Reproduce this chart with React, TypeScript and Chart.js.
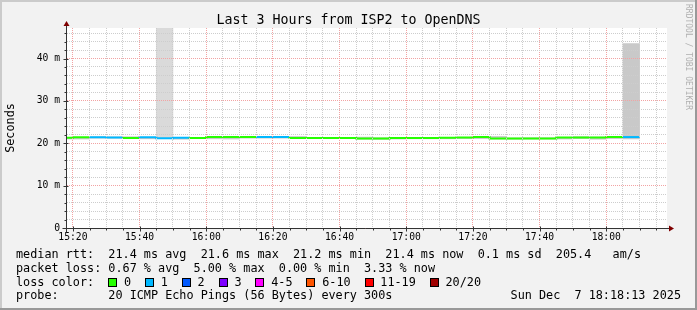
import React, { useEffect, useRef } from 'react';
import { Chart, registerables } from 'chart.js';

Chart.register(...registerables);

const CHART_TITLE = 'Last 3 Hours from ISP2 to OpenDNS';
const Y_AXIS_TITLE = 'Seconds';
const WATERMARK = 'RRDTOOL / TOBI OETIKER';
const RANGE_START = '15:18:13';
const RANGE_END = '18:18:13';
const STEP_MINUTES = 5;

const SAMPLE_TIMES = [
  '15:15', '15:20', '15:25', '15:30', '15:35', '15:40', '15:45', '15:50', '15:55',
  '16:00', '16:05', '16:10', '16:15', '16:20', '16:25', '16:30', '16:35', '16:40', '16:45', '16:50', '16:55',
  '17:00', '17:05', '17:10', '17:15', '17:20', '17:25', '17:30', '17:35', '17:40', '17:45', '17:50', '17:55',
  '18:00', '18:05',
];
const MEDIAN_RTT_MS = [
  21.27, 21.27, 21.42, 21.42, 21.34, 21.23, 21.42, 21.20, 21.27,
  21.25, 21.46, 21.46, 21.46, 21.46, 21.50, 21.23, 21.23, 21.23, 21.23, 21.15, 21.15,
  21.23, 21.23, 21.23, 21.27, 21.34, 21.50, 21.10, 21.15, 21.15, 21.15, 21.34, 21.34,
  21.34, 21.46,
];
const LOST_PINGS = [
  0, 0, 1, 1, 0, 1, 1, 1, 0,
  0, 0, 0, 1, 1, 0, 0, 0, 0, 0, 0, 0,
  0, 0, 0, 0, 0, 0, 0, 0, 0, 0, 0, 0,
  0, 1,
];
const SMOKE_MIN_MS = [
  21.00, 21.00, 21.20, 21.20, 21.20, 21.05, 21.10, 20.95, 21.10,
  21.05, 21.00, 21.20, 21.20, 21.20, 21.20, 21.10, 21.10, 21.10, 20.95, 20.90, 21.00,
  21.05, 21.05, 21.05, 21.10, 21.10, 21.00, 20.95, 21.00, 21.00, 21.00, 21.10, 20.95,
  21.10, 21.00,
];
const SMOKE_MAX_MS = [
  21.35, 21.35, 21.50, 21.50, 21.55, 21.35, 60.00, 21.30, 21.40,
  21.45, 21.55, 21.55, 21.55, 21.55, 21.60, 21.35, 21.35, 21.35, 21.45, 21.30, 21.30,
  21.35, 21.35, 21.35, 21.35, 21.45, 21.60, 21.25, 21.30, 21.30, 21.30, 21.55, 21.45,
  21.45, 43.50,
];

const X_MINOR_STEP = 5;
const X_MAJOR_STEP = 20;
const Y_MINOR_STEP = 2;
const Y_MAJOR_STEP = 10;
const Y_MAX_MS = 47.2;

const LOSS_LABELS = ['0', '1', '2', '3', '4-5', '6-10', '11-19', '20/20'];
const LOSS_MAX_PINGS = [0, 1, 2, 3, 5, 10, 19, 20];
const LOSS_COLORS = ['#26ff00', '#00b8ff', '#0059ff', '#7e00ff', '#ff00ff', '#ff5500', '#ff0000', '#a00000'];

const RTT_LEGEND = 'median rtt:  21.4 ms avg  21.6 ms max  21.2 ms min  21.4 ms now  0.1 ms sd  205.4   am/s';
const LOSS_LEGEND = 'packet loss: 0.67 % avg  5.00 % max  0.00 % min  3.33 % now';
const LOSS_COLOR_CAPTION = 'loss color:';
const PROBE_LEGEND = 'probe:       20 ICMP Echo Pings (56 Bytes) every 300s';
const TIMESTAMP = 'Sun Dec  7 18:18:13 2025';

const MONO = '"DejaVu Sans Mono", monospace';
const MINOR_GRID = '#cdcdcd';
const MAJOR_GRID = '#f2a3a3';
const AXIS_COLOR = '#333333';
const ARROW_COLOR = '#7f0000';

const toMin = (hms: string) => {
  const [h, m, s] = hms.split(':');
  return Number(h) * 60 + Number(m) + (s ? Number(s) / 60 : 0);
};
const fmtHM = (min: number) =>
  `${String(Math.floor(min / 60)).padStart(2, '0')}:${String(Math.round(min % 60)).padStart(2, '0')}`;
const lossIndex = (n: number) => {
  const i = LOSS_MAX_PINGS.findIndex((m) => n <= m);
  return i < 0 ? LOSS_MAX_PINGS.length - 1 : i;
};

const rrdFrame = {
  id: 'rrdFrame',
  beforeDraw(chart: any) {
    const { ctx, width, height, chartArea: a } = chart;
    ctx.save();
    ctx.fillStyle = '#f2f2f2';
    ctx.fillRect(0, 0, width, height);
    ctx.fillStyle = '#cbcbcb';
    ctx.fillRect(0, 0, width, 2);
    ctx.fillRect(0, 0, 2, height);
    ctx.fillStyle = '#999999';
    ctx.fillRect(0, height - 2, width, 2);
    ctx.fillRect(width - 2, 0, 2, height);
    ctx.fillStyle = '#ffffff';
    ctx.fillRect(a.left, a.top, a.right - a.left, a.bottom - a.top);
    ctx.restore();
  },
  afterDraw(chart: any) {
    const { ctx, chartArea: a, scales } = chart;
    const xs = scales.x;
    const ys = scales.y;
    const ax = Math.round(a.left) - 0.5;
    const ay = Math.round(a.bottom) + 0.5;
    ctx.save();
    ctx.strokeStyle = AXIS_COLOR;
    ctx.lineWidth = 1;
    ctx.beginPath();
    ctx.moveTo(ax, ay + 4);
    ctx.lineTo(ax, a.top - 2);
    ctx.moveTo(ax - 4, ay);
    ctx.lineTo(a.right + 2, ay);
    xs.ticks.forEach((t: any) => {
      const px = Math.round(xs.getPixelForValue(t.value)) + 0.5;
      const major = t.value % X_MAJOR_STEP === 0;
      ctx.moveTo(px, ay - (major ? 2 : 0));
      ctx.lineTo(px, ay + (major ? 3 : 2));
    });
    ys.ticks.forEach((t: any) => {
      const py = Math.round(ys.getPixelForValue(t.value)) + 0.5;
      const major = t.value % Y_MAJOR_STEP === 0;
      ctx.moveTo(ax - (major ? 3 : 2), py);
      ctx.lineTo(ax + (major ? 2 : 0), py);
    });
    ctx.stroke();
    ctx.fillStyle = ARROW_COLOR;
    ctx.beginPath();
    ctx.moveTo(ax - 3, a.top - 2);
    ctx.lineTo(ax + 3, a.top - 2);
    ctx.lineTo(ax, a.top - 7);
    ctx.closePath();
    ctx.fill();
    ctx.beginPath();
    ctx.moveTo(a.right + 2, ay - 3);
    ctx.lineTo(a.right + 2, ay + 3);
    ctx.lineTo(a.right + 7, ay);
    ctx.closePath();
    ctx.fill();
    ctx.restore();
  },
};

export default function App() {
  const canvasRef = useRef<HTMLCanvasElement>(null);

  useEffect(() => {
    document.body.style.margin = '0';
    const canvas = canvasRef.current;
    if (!canvas) return;
    const xMin = toMin(RANGE_START);
    const xMax = toMin(RANGE_END);

    const linePoints = SAMPLE_TIMES.map((t, i) => ({ x: toMin(t), y: MEDIAN_RTT_MS[i] }));
    const last = SAMPLE_TIMES.length - 1;
    linePoints.push({ x: toMin(SAMPLE_TIMES[last]) + STEP_MINUTES, y: MEDIAN_RTT_MS[last] });
    const smokePoints = SAMPLE_TIMES.map((t, i) => ({
      x: toMin(t) + STEP_MINUTES / 2,
      y: [SMOKE_MIN_MS[i], SMOKE_MAX_MS[i]],
    }));

    const chart = new Chart(canvas, {
      type: 'line',
      data: {
        datasets: [
          {
            type: 'line',
            label: 'median rtt',
            data: linePoints as any,
            stepped: 'after',
            borderWidth: 2,
            pointRadius: 0,
            borderColor: LOSS_COLORS[0],
            segment: {
              borderColor: (c: any) => LOSS_COLORS[lossIndex(LOST_PINGS[c.p0DataIndex] ?? 0)],
            },
            order: 0,
          } as any,
          {
            type: 'bar',
            label: 'smoke',
            data: smokePoints as any,
            backgroundColor: (c: any) => (c.raw && c.raw.y[1] > Y_MAX_MS ? '#dadada' : '#c9c9c9'),
            borderWidth: 0,
            barPercentage: 1,
            categoryPercentage: 1,
            grouped: false,
            clip: 0,
            order: 1,
          } as any,
        ],
      },
      options: {
        responsive: false,
        animation: false,
        devicePixelRatio: 1,
        layout: { padding: 0 },
        plugins: {
          legend: { display: false },
          tooltip: { enabled: false },
          title: {
            display: true,
            text: CHART_TITLE,
            color: '#000000',
            font: { family: MONO, size: 13.3, weight: 'normal', lineHeight: 1.0 },
            padding: { top: 13.75, bottom: 0.95 },
          },
        },
        scales: {
          x: {
            type: 'linear',
            min: xMin,
            max: xMax,
            offset: false,
            afterFit: (s: any) => {
              s.height = 82;
            },
            afterBuildTicks: (s: any) => {
              const t = [];
              for (let v = Math.ceil(xMin / X_MINOR_STEP) * X_MINOR_STEP; v <= xMax; v += X_MINOR_STEP) t.push({ value: v });
              s.ticks = t;
            },
            grid: {
              z: 1,
              offset: false,
              drawTicks: false,
              lineWidth: 1,
              color: (c: any) => (c.tick && c.tick.value % X_MAJOR_STEP === 0 ? MAJOR_GRID : MINOR_GRID),
              borderDash: [1, 1],
            } as any,
            border: { display: false, dash: [1, 1] },
            ticks: {
              autoSkip: false,
              maxRotation: 0,
              padding: 4,
              color: '#000000',
              font: { family: MONO, size: 9.7 },
              callback: (v: any) => (Number(v) % X_MAJOR_STEP === 0 ? fmtHM(Number(v)) : ''),
            },
          },
          y: {
            type: 'linear',
            min: 0,
            max: Y_MAX_MS,
            afterFit: (s: any) => {
              s.width = 67;
            },
            afterBuildTicks: (s: any) => {
              const t = [];
              for (let v = 0; v <= Y_MAX_MS; v += Y_MINOR_STEP) t.push({ value: v });
              s.ticks = t;
            },
            grid: {
              z: 1,
              drawTicks: false,
              lineWidth: 1,
              color: (c: any) => (c.tick && c.tick.value % Y_MAJOR_STEP === 0 ? MAJOR_GRID : MINOR_GRID),
              borderDash: [1, 1],
            } as any,
            border: { display: false, dash: [1, 1] },
            ticks: {
              autoSkip: false,
              padding: 7,
              color: '#000000',
              font: { family: MONO, size: 9.7 },
              callback: (v: any) => {
                const n = Number(v);
                if (n % Y_MAJOR_STEP !== 0) return '';
                return n === 0 ? '0' : `${n} m`;
              },
            },
            title: {
              display: true,
              text: Y_AXIS_TITLE,
              color: '#000000',
              font: { family: MONO, size: 11.8, lineHeight: 1.2 },
              padding: { top: 3.5, bottom: 0 },
            },
          },
          yR: {
            type: 'linear',
            position: 'right',
            display: true,
            afterFit: (s: any) => {
              s.width = 30;
            },
            grid: { display: false, drawTicks: false },
            border: { display: false },
            ticks: { display: false },
          },
        },
      },
      plugins: [rrdFrame],
    } as any);

    return () => chart.destroy();
  }, []);

  const textBase: React.CSSProperties = {
    position: 'absolute',
    fontFamily: MONO,
    fontSize: '11.8px',
    lineHeight: '14px',
    whiteSpace: 'pre',
    color: '#000',
  };

  return (
    <div style={{ position: 'absolute', left: 0, top: 0, width: 697, height: 310, overflow: 'hidden' }}>
      <canvas ref={canvasRef} width={697} height={310} style={{ display: 'block', width: 697, height: 310 }} />
      <div
        style={{
          position: 'absolute',
          left: 683,
          top: 4,
          writingMode: 'vertical-rl',
          fontFamily: MONO,
          fontSize: '8px',
          lineHeight: '10px',
          whiteSpace: 'pre',
          color: '#b0b0b0',
        }}
      >
        {WATERMARK}
      </div>
      <div style={{ ...textBase, left: 16, top: 247.2 }}>{RTT_LEGEND}</div>
      <div style={{ ...textBase, left: 16, top: 260.7 }}>{LOSS_LEGEND}</div>
      <div style={{ ...textBase, left: 16, top: 274.6 }}>{LOSS_COLOR_CAPTION}</div>
      <div style={{ position: 'absolute', left: 108.3, top: 274.6, display: 'flex', alignItems: 'flex-start' }}>
        {LOSS_LABELS.map((lab, i) => (
          <div key={lab} style={{ display: 'flex', alignItems: 'flex-start', marginLeft: i === 0 ? 0 : 14 }}>
            <div
              style={{
                marginTop: 3.4,
                width: 7,
                height: 7,
                border: '1px solid #000',
                background: LOSS_COLORS[i],
              }}
            />
            <div style={{ ...textBase, position: 'static', marginLeft: 6.7 }}>{lab}</div>
          </div>
        ))}
      </div>
      <div style={{ ...textBase, left: 16, top: 288 }}>{PROBE_LEGEND}</div>
      <div style={{ ...textBase, right: 16, top: 288 }}>{TIMESTAMP}</div>
    </div>
  );
}
